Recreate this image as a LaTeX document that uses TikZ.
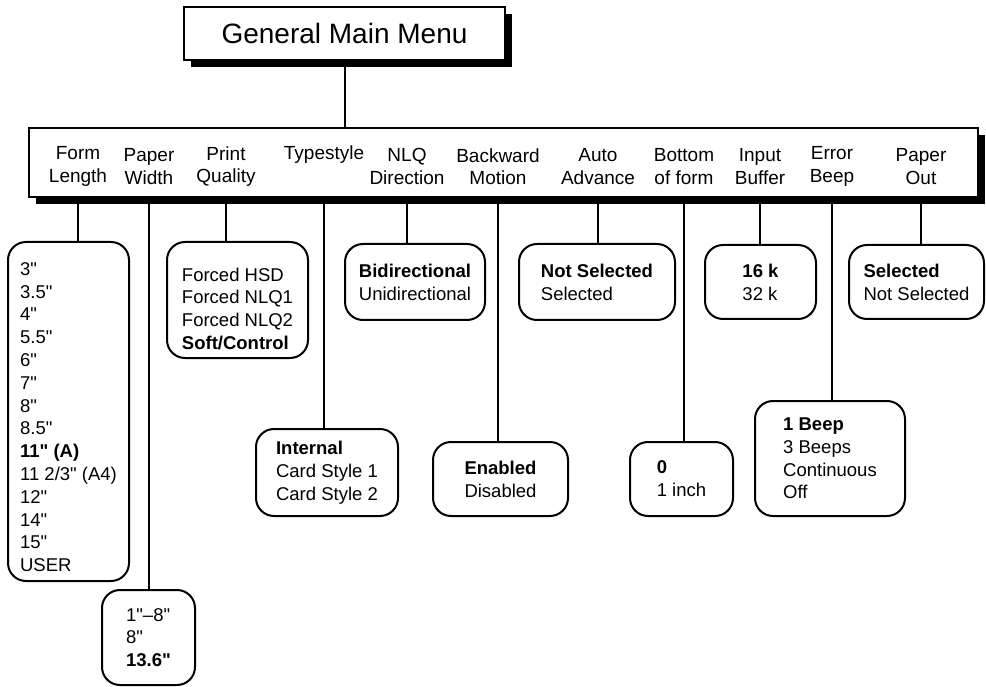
\documentclass[tikz,border=0pt]{standalone}
\usepackage{fontspec}
\setmainfont{Liberation Sans}[Ligatures=TeXOff]
\usetikzlibrary{shadows}

\begin{document}
\begin{tikzpicture}[x=1pt, y=-1pt, line width=2pt,
    menubox/.style={draw, fill=white, general shadow={fill=black, shadow xshift=7pt, shadow yshift=-7pt}},
    item/.style={align=center, font=\fontsize{19}{22.5}\selectfont},
    choices/.style={draw, fill=white, rounded corners=18pt, align=left, inner sep=0pt, font=\fontsize{18.5}{22.8}\selectfont}]
    \useasboundingbox (0,0) rectangle (986,687);
    \node (main) at (344.5,33.5) [menubox, minimum width=321pt, minimum height=53pt, font=\fontsize{28}{34}\selectfont] {General Main Menu};
    \node (bar) at (503.5,162.5) [menubox, minimum width=949pt, minimum height=69pt] {};
    \draw (main.south) -- (main.south |- bar.north);

    \node (fl) at (78,166.5) [item] {Form\\Length};
    \node (pw) at (149,166.5) [item] {Paper\\Width};
    \node (pq) at (226,166.5) [item] {Print\\Quality};
    \node (ts) at (324,155) [item] {Typestyle};
    \node (nlq) at (407,166.5) [item] {NLQ\\Direction};
    \node (bm) at (498,166.5) [item] {Backward\\Motion};
    \node (aa) at (598,166.5) [item] {Auto\\Advance};
    \node (bf) at (684,166.5) [item] {Bottom\\of form};
    \node (ib) at (760,166.5) [item] {Input\\Buffer};
    \node (eb) at (832,166.5) [item] {Error\\Beep};
    \node (po) at (921,166.5) [item] {Paper\\Out};

    \node (fl-opt) at (68.5,411.5) [choices, minimum width=121pt, minimum height=339pt] {\rule{0pt}{24pt}3"\\3.5"\\4"\\5.5"\\6"\\7"\\8"\\8.5"\\\textbf{11" (A)}\\11 2/3" (A4)\\12"\\14"\\15"\\USER};
    \node (pw-opt) at (148.5,637.5) [choices, minimum width=93pt, minimum height=95pt] {1"\textendash 8"\\8"\\\textbf{13.6"}};
    \node (pq-opt) at (237.5,300) [choices, minimum width=141pt, minimum height=116pt] {\rule{0pt}{31pt}Forced HSD\\Forced NLQ1\\Forced NLQ2\\\textbf{Soft/Control}};
    \node (ts-opt) at (327,472.5) [choices, minimum width=142pt, minimum height=87pt] {\textbf{Internal}\\Card Style 1\\Card Style 2};
    \node (nlq-opt) at (415,282) [choices, minimum width=140pt, minimum height=76pt] {\textbf{Bidirectional}\\Unidirectional};
    \node (bm-opt) at (500.5,479) [choices, minimum width=135pt, minimum height=74pt] {\textbf{Enabled}\\Disabled};
    \node (aa-opt) at (597,282) [choices, minimum width=156pt, minimum height=76pt] {\textbf{Not Selected}\\Selected};
    \node (bf-opt) at (681.5,479) [choices, minimum width=103pt, minimum height=74pt] {\textbf{0}\\1 inch};
    \node (ib-opt) at (760.5,282) [choices, minimum width=111pt, minimum height=74pt] {\textbf{16 k}\\32 k};
    \node (eb-opt) at (830,458.5) [choices, minimum width=150pt, minimum height=115pt] {\textbf{1 Beep}\\3 Beeps\\Continuous\\Off};
    \node (po-opt) at (916.5,282) [choices, minimum width=135pt, minimum height=74pt] {\textbf{Selected}\\Not Selected};

    \foreach \m in {fl, pw, pq, ts, nlq, bm, aa, bf, ib, eb, po}
        \draw (\m |- bar.south) -- (\m |- \m-opt.north);
\end{tikzpicture}
\end{document}
